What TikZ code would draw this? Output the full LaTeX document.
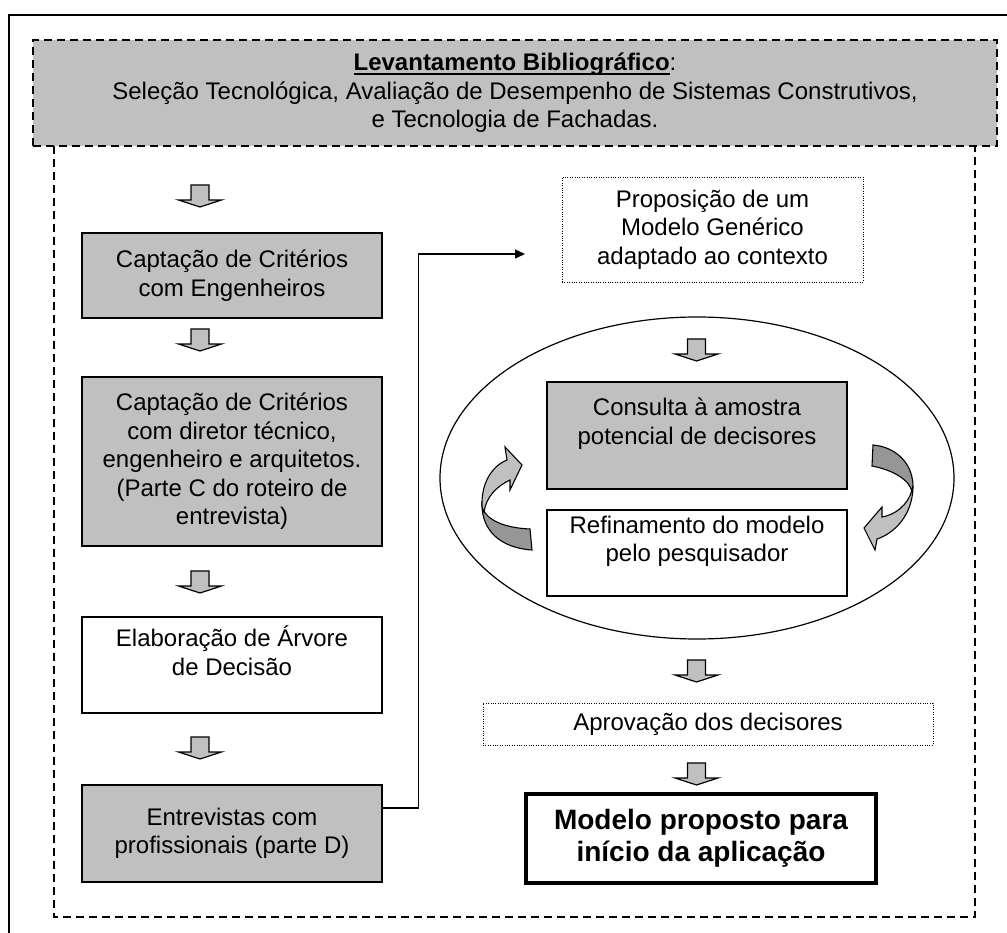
\documentclass[tikz,border=0pt]{standalone}
\usepackage{fontspec}
\setmainfont{Liberation Sans}
\usetikzlibrary{arrows.meta}
\definecolor{cinza}{RGB}{192,192,192}
\definecolor{cinzaesc}{RGB}{150,150,150}
\newcommand{\sublinha}[1]{\setbox0\hbox{#1}\rlap{\rule[-4pt]{\wd0}{1.6pt}}\box0}
\tikzset{
  caixa/.style={draw, line width=1.4pt, minimum width=300pt, inner sep=2pt, align=center, font=\fontsize{24}{28.5}\selectfont},
  caixacinza/.style={caixa, fill=cinza},
  pontilhada/.style={caixa, line width=0.9pt, dash pattern=on 0.9pt off 1.5pt},
  tracejada/.style={line width=1.4pt, dash pattern=on 8pt off 5pt},
  ligacao/.style={line width=1.3pt, -{Triangle[length=10pt,width=9pt]}},
  seta/.pic={\draw[line width=1.2pt, fill=cinza] (-9,0) -- (-9,15) -- (-21.5,15) -- (0,22) -- (21.5,15) -- (9,15) -- (9,0) -- cycle;}
}
\begin{document}
\begin{tikzpicture}[x=1pt, y=-1pt]
	\useasboundingbox (0,0) rectangle (1007,933);
	\draw[line width=2pt] (9,933) -- (9,15) -- (1007,15);
	\draw[tracejada] (54,146) -- (54,917) -- (975,917) -- (975,146);
	\node[caixacinza, tracejada, minimum width=964pt, minimum height=106pt] (levant) at (515,93) {\textbf{\sublinha{Levantamento Bibliográfico}}:\\Seleção Tecnológica, Avaliação de Desempenho de Sistemas Construtivos,\\e Tecnologia de Fachadas.};

	% coluna da esquerda
	\node[caixacinza, minimum height=85pt] (capeng) at (232,275.5) {Captação de Critérios\\com Engenheiros};
	\node[caixacinza, minimum height=169pt] (capdir) at (232,461.5) {Captação de Critérios\\com diretor técnico,\\engenheiro e arquitetos.\\(Parte C do roteiro de\\entrevista)};
	\node[caixa, minimum height=96pt] (arvore) at (232,665) {Elaboração de Árvore\\de Decisão\\\mbox{}};
	\node[caixacinza, minimum height=97pt] (entrev) at (232,833.5) {Entrevistas com\\profissionais (parte D)};
	\pic at (200,185) {seta};
	\pic at (200,329) {seta};
	\pic at (200,571) {seta};
	\pic at (200,737) {seta};

	% coluna da direita
	\node[pontilhada, minimum width=301pt, minimum height=105pt] (propos) at (712.5,229.5) {Proposição de um\\Modelo Genérico\\adaptado ao contexto};
	\draw[line width=1.2pt] (697,478) ellipse [x radius=257, y radius=161];
	\node[caixacinza, minimum height=107pt] (consulta) at (697,435.5) {Consulta à amostra\\potencial de decisores\\\mbox{}};
	\node[caixa, minimum height=86pt] (refin) at (697,553) {Refinamento do modelo\\pelo pesquisador\\\mbox{}};
	\node[pontilhada, minimum width=450pt, minimum height=42pt, inner sep=0pt] (aprov) at (708,724) {Aprovação dos decisores};
	\node[caixa, line width=3.5pt, minimum width=350pt, minimum height=89pt, font=\bfseries\fontsize{28}{32}\selectfont] (final) at (701,838.5) {Modelo proposto para\\início da aplicação};
	\pic at (696.5,339) {seta};
	\pic at (696.5,660) {seta};
	\pic at (696.5,763) {seta};

	% setas curvas
	\draw[line width=1.1pt, fill=cinzaesc] (482,505) .. controls (484,520) and (505,528) .. (530,529) -- (532,550) .. controls (500,548) and (482,530) .. cycle;
	\draw[line width=1.1pt, fill=cinza] (482,507) .. controls (481,483) and (492,466) .. (507,460) -- (505,447) -- (522,465) -- (510,490) -- (510,480) .. controls (497,486) and (486,497) .. (484,512) -- cycle;
	\draw[line width=1.1pt, fill=cinzaesc] (873,445) -- (872,466) .. controls (893,470) and (910,480) .. (912,492) -- (913,485) .. controls (912,462) and (895,447) .. cycle;
	\draw[line width=1.1pt, fill=cinza] (912,490) .. controls (908,505) and (895,515) .. (882,517) -- (882,507) -- (864,528) -- (875,550) -- (877,539) .. controls (895,533) and (912,515) .. (913,488) -- cycle;

	% ligacao
	\coordinate (pontaprop) at (525,254);
	\draw[ligacao] ([yshift=25.5pt]entrev.east) -- ++(36,0) |- (pontaprop);
\end{tikzpicture}
\end{document}
